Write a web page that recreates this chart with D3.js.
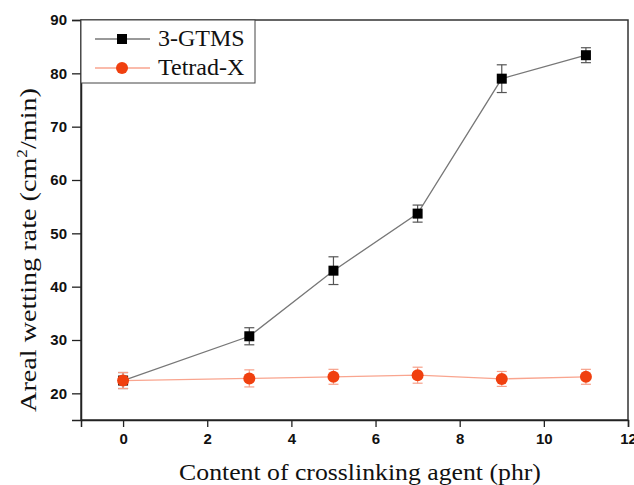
<!DOCTYPE html>
<html>
<head>
<meta charset="utf-8">
<script src="https://cdn.jsdelivr.net/npm/d3@7"></script>
<style>
  body { margin: 0; background: #fff; }
  svg { display: block; }
</style>
</head>
<body>
<svg width="634" height="485"></svg>
<script>
// donnees
const contents = [0, 3, 5, 7, 9, 11];
const gtmsValues = [22.4, 30.7, 43.0, 53.7, 79.0, 83.4];
const gtmsErrors = [1.5, 1.6, 2.6, 1.6, 2.6, 1.4];
const tetradValues = [22.4, 22.8, 23.1, 23.4, 22.7, 23.1];
const tetradErrors = [1.5, 1.6, 1.4, 1.5, 1.4, 1.4];
const xTicks = [0, 2, 4, 6, 8, 10, 12];
const yTicks = [20, 30, 40, 50, 60, 70, 80, 90];

const svg = d3.select("svg");
const mLeft = 81, mRight = 628, mTop = 20, mBottom = 420;

const x = d3.scaleLinear().domain([-1, 12]).range([mLeft, mRight]);
const y = d3.scaleLinear().domain([15, 90]).range([mBottom, mTop]);

// cadre
svg.append("rect")
  .attr("x", mLeft).attr("y", mTop)
  .attr("width", mRight - mLeft).attr("height", mBottom - mTop)
  .attr("fill", "none").attr("stroke", "#333").attr("stroke-width", 1.5);

// axe x
const gx = svg.append("g").attr("transform", `translate(0,${mBottom})`);
gx.call(d3.axisBottom(x).tickValues(d3.range(-1, 13)).tickSize(4).tickFormat(""));
gx.call(d3.axisBottom(x).tickValues(xTicks).tickSize(7).tickPadding(6).tickFormat(d3.format("d")));
gx.selectAll(".domain").attr("stroke", "#222").attr("stroke-width", 1.5);
gx.selectAll("line").attr("stroke", "#222").attr("stroke-width", 1.3);
gx.selectAll("text")
  .attr("font-family", "Liberation Sans, Arial, sans-serif")
  .attr("font-weight", "bold").attr("font-size", 15).attr("fill", "#111");

// axe y
const gy = svg.append("g").attr("transform", `translate(${mLeft},0)`);
gy.call(d3.axisLeft(y).tickValues(d3.range(15, 91, 5)).tickSize(5).tickFormat(""));
gy.call(d3.axisLeft(y).tickValues(yTicks).tickSize(9).tickPadding(5).tickFormat(d3.format("d")));
gy.selectAll(".domain").attr("stroke", "#222").attr("stroke-width", 1.5);
gy.selectAll("line").attr("stroke", "#222").attr("stroke-width", 1.3);
gy.selectAll("text")
  .attr("font-family", "Liberation Sans, Arial, sans-serif")
  .attr("font-weight", "bold").attr("font-size", 15).attr("fill", "#111");

// titres (etires horizontalement comme sur l'original)
function stretch(sel, target, base) {
  const w = sel.node().getBBox().width;
  sel.attr("transform", `${base} scale(${target / w},1)`);
}

const xt = svg.append("text")
  .attr("text-anchor", "middle")
  .attr("font-family", "Liberation Serif, Times New Roman, serif")
  .attr("font-size", 23).attr("fill", "#111")
  .text("Content of crosslinking agent (phr)");
stretch(xt, 362, "translate(360,480)");

const yt = svg.append("text")
  .attr("text-anchor", "middle")
  .attr("font-family", "Liberation Serif, Times New Roman, serif")
  .attr("font-size", 23).attr("fill", "#111");
yt.append("tspan").text("Areal wetting rate (cm");
yt.append("tspan").attr("font-size", 14).attr("dy", -9).text("2");
yt.append("tspan").attr("dy", 9).text("/min)");
stretch(yt, 324, "translate(36,250) rotate(-90)");

const series = [
  { name: "3-GTMS", values: gtmsValues, errors: gtmsErrors, line: "#777", err: "#555", fill: "#000", shape: "square" },
  { name: "Tetrad-X", values: tetradValues, errors: tetradErrors, line: "#f9a58f", err: "#f7a08a", fill: "#f0400f", shape: "circle" }
];

const line = d3.line().x(d => x(d[0])).y(d => y(d[1]));

series.forEach(s => {
  const pts = contents.map((c, i) => [c, s.values[i], s.errors[i]]);
  const g = svg.append("g");
  g.append("path").datum(pts).attr("d", line)
    .attr("fill", "none").attr("stroke", s.line).attr("stroke-width", 1.3);

  const eb = g.selectAll("g.err").data(pts).join("g").attr("class", "err")
    .attr("stroke", s.err).attr("stroke-width", 1.2);
  eb.append("line")
    .attr("x1", d => x(d[0])).attr("x2", d => x(d[0]))
    .attr("y1", d => y(d[1] + d[2])).attr("y2", d => y(d[1] - d[2]));
  eb.append("line")
    .attr("x1", d => x(d[0]) - 5).attr("x2", d => x(d[0]) + 5)
    .attr("y1", d => y(d[1] + d[2])).attr("y2", d => y(d[1] + d[2]));
  eb.append("line")
    .attr("x1", d => x(d[0]) - 5).attr("x2", d => x(d[0]) + 5)
    .attr("y1", d => y(d[1] - d[2])).attr("y2", d => y(d[1] - d[2]));

  if (s.shape === "square") {
    g.selectAll("rect").data(pts).join("rect")
      .attr("x", d => x(d[0]) - 5).attr("y", d => y(d[1]) - 5)
      .attr("width", 10).attr("height", 10).attr("fill", s.fill);
  } else {
    g.selectAll("circle").data(pts).join("circle")
      .attr("cx", d => x(d[0])).attr("cy", d => y(d[1]))
      .attr("r", 6).attr("fill", s.fill);
  }
});

// legende
const lg = svg.append("g");
lg.append("rect").attr("x", mLeft).attr("y", mTop)
  .attr("width", 174).attr("height", 63)
  .attr("fill", "#fff").attr("stroke", "#444").attr("stroke-width", 1);
series.forEach((s, i) => {
  const ly = 39 + i * 29;
  lg.append("line").attr("x1", 95).attr("x2", 150).attr("y1", ly).attr("y2", ly)
    .attr("stroke", s.line).attr("stroke-width", 1.3);
  if (s.shape === "square") {
    lg.append("rect").attr("x", 117).attr("y", ly - 5).attr("width", 10).attr("height", 10).attr("fill", s.fill);
  } else {
    lg.append("circle").attr("cx", 122).attr("cy", ly).attr("r", 6).attr("fill", s.fill);
  }
  lg.append("text").attr("x", 158).attr("y", ly + 7)
    .attr("font-family", "Liberation Serif, Times New Roman, serif")
    .attr("font-size", 24).attr("fill", "#111")
    .text(s.name);
});
</script>
</body>
</html>
